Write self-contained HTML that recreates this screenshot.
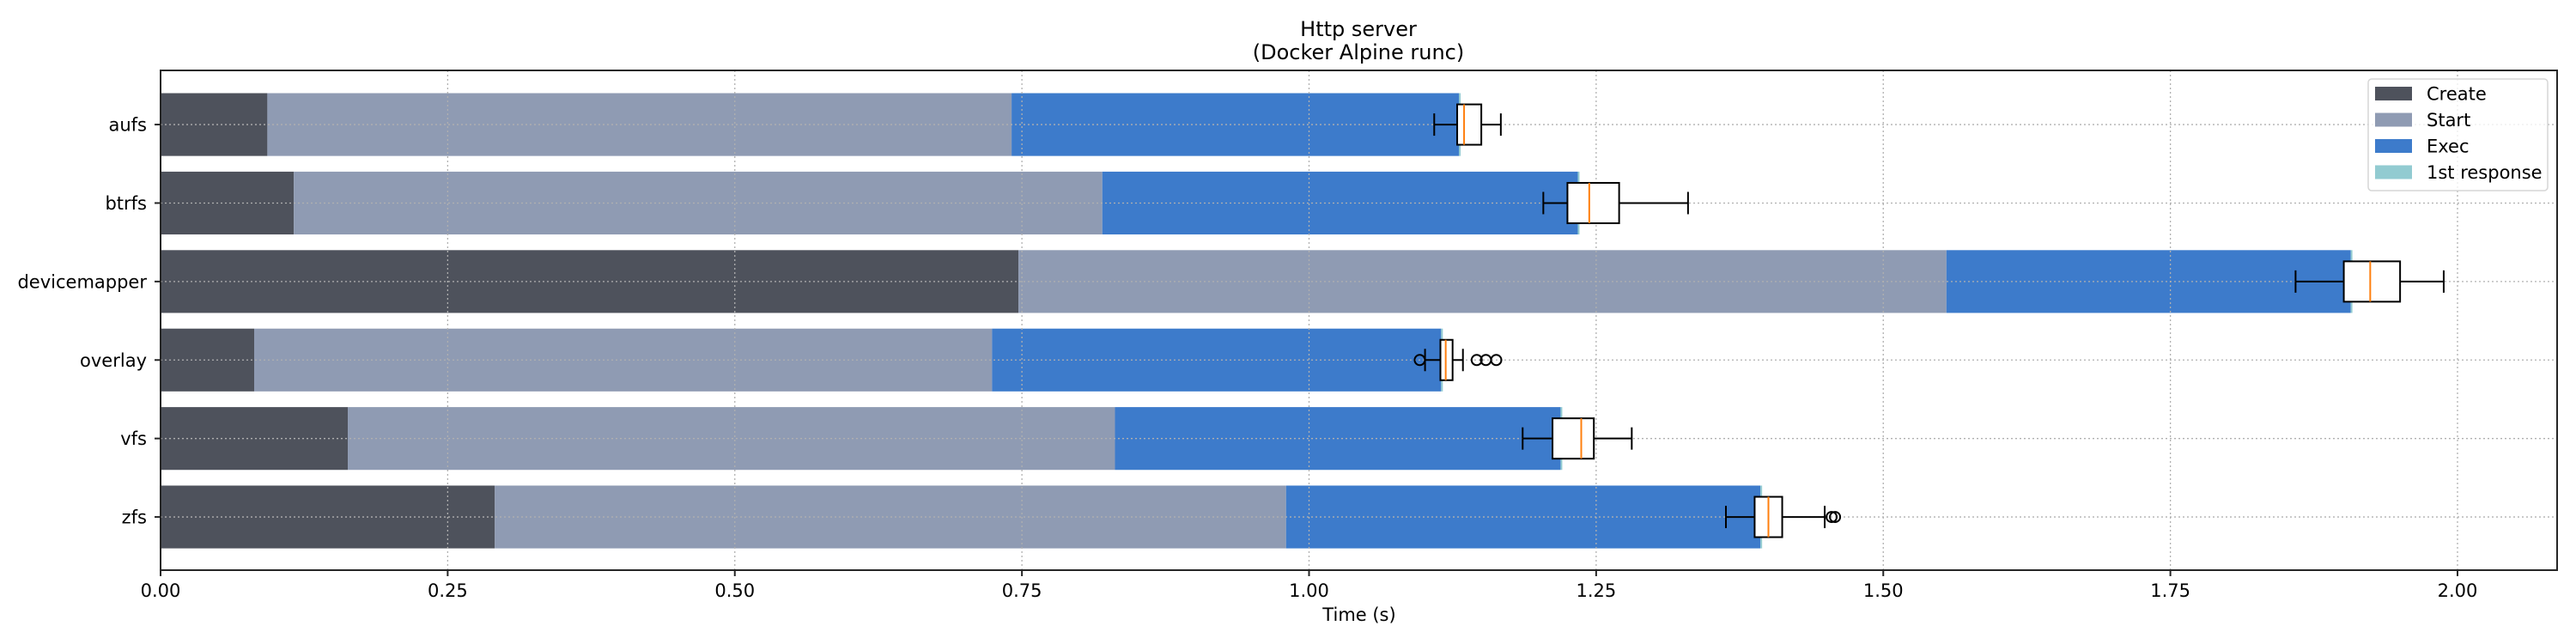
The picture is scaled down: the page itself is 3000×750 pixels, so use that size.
<!DOCTYPE html>
<html><head><meta charset="utf-8"><title>Http server</title>
<style>
html,body{margin:0;padding:0;background:#fff;}
svg{display:block;font-family:"DejaVu Sans","Liberation Sans",sans-serif;}
</style></head>
<body>
<svg id="chart" width="3000" height="750" xmlns="http://www.w3.org/2000/svg">
  <rect x="0" y="0" width="3000" height="750" fill="#fff"/>
  <text x="1582" y="42" font-size="24" text-anchor="middle" fill="#000">Http server</text>
  <text x="1582" y="69" font-size="24" text-anchor="middle" fill="#000">(Docker Alpine runc)</text>
  <g id="grid"></g>
  <g id="bars"></g>
  <g id="boxes"></g>
  <rect x="187" y="82" width="2791" height="582" fill="none" stroke="#262626" stroke-width="2"/>
  <g id="axes"></g>
  <text x="1583" y="723" font-size="21" text-anchor="middle" fill="#000">Time (s)</text>
  <g id="legend"></g>
</svg>
<script>
const categories = ["aufs","btrfs","devicemapper","overlay","vfs","zfs"];
const createVals = [0.093, 0.116, 0.747, 0.0815, 0.163, 0.291];
const startVals  = [0.648, 0.704, 0.808, 0.6425, 0.668, 0.689];
const execVals   = [0.3895, 0.414, 0.352, 0.391, 0.388, 0.413];
const respVals   = [0.0015, 0.0015, 0.0015, 0.0015, 0.0015, 0.0015];
const boxLo  = [1.109, 1.204, 1.859, 1.101, 1.186, 1.363];
const boxQ1  = [1.129, 1.225, 1.901, 1.1144, 1.212, 1.388];
const boxMed = [1.135, 1.244, 1.924, 1.119, 1.237, 1.400];
const boxQ3  = [1.150, 1.270, 1.950, 1.125, 1.248, 1.412];
const boxHi  = [1.167, 1.330, 1.988, 1.134, 1.281, 1.449];
const outliers = [[], [], [], [1.0964, 1.146, 1.154, 1.163], [], [1.455, 1.458]];
const xTicks = [0, 0.25, 0.5, 0.75, 1.0, 1.25, 1.5, 1.75, 2.0];
const xTickLabels = ["0.00","0.25","0.50","0.75","1.00","1.25","1.50","1.75","2.00"];
const seriesNames = ["Create","Start","Exec","1st response"];
const seriesColors = ["#4e525c","#8f9bb3","#3d7bcb","#92cbd1"];

const NS = "http://www.w3.org/2000/svg";
const L = 187, R = 2978, T = 82, B = 664;
const xMax = (R - L) / 1337.5;
const X = v => L + v / xMax * (R - L);
const step = 91.4;
const Y = i => T + (i + 0.69) * step;
function mk(tag, attrs, parent){ const e = document.createElementNS(NS, tag); for (const k in attrs) e.setAttribute(k, attrs[k]); parent.appendChild(e); return e; }

const grid = document.getElementById('grid');
const bars = document.getElementById('bars');
const boxes = document.getElementById('boxes');
const axes = document.getElementById('axes');
const legend = document.getElementById('legend');

xTicks.forEach((t, i) => {
  const gl = mk('line', {x1: X(t), x2: X(t), y1: T, y2: B, stroke: '#b0b0b0', 'stroke-width': 1.3, 'stroke-dasharray': '2,3'}, grid);
  
  
  const tk = mk('line', {x1: X(t), x2: X(t), y1: B, y2: B + 7, stroke: '#262626', 'stroke-width': 2}, axes);
  
  
  const lb = mk('text', {x: X(t), y: 695, 'font-size': 21, 'text-anchor': 'middle', fill: '#000'}, axes);
  lb.textContent = xTickLabels[i];
  
  
});

const bh = 0.8 * step;
categories.forEach((c, i) => {
  const yc = Y(i);
  const segs = [createVals[i], startVals[i], execVals[i], respVals[i]];
  let acc = 0;
  segs.forEach((v, s) => {
    const r = mk('rect', {x: X(acc), y: yc - bh / 2, width: X(acc + v) - X(acc), height: bh, fill: seriesColors[s]}, bars);
    
    
    acc += v;
  });
});

categories.forEach((c, i) => {
  const yc = Y(i);
  const gl = mk('line', {x1: L, x2: R, y1: yc, y2: yc, stroke: '#b0b0b0', 'stroke-width': 1.3, 'stroke-dasharray': '2,3'}, grid);
  
  
  const tk = mk('line', {x1: L - 7, x2: L, y1: yc, y2: yc, stroke: '#262626', 'stroke-width': 2}, axes);
  
  
  const lb = mk('text', {x: 171, y: yc + 7.5, 'font-size': 21, 'text-anchor': 'end', fill: '#000'}, axes);
  lb.textContent = c;
  
  
});
document.getElementById('chart').insertBefore(grid, boxes);

categories.forEach((c, i) => {
  const yc = Y(i);
  const hb = 23.5, hc = 13;
  const g = mk('g', {}, boxes);
  
  
  mk('line', {x1: X(boxLo[i]), x2: X(boxQ1[i]), y1: yc, y2: yc, stroke: '#000', 'stroke-width': 2}, g);
  mk('line', {x1: X(boxQ3[i]), x2: X(boxHi[i]), y1: yc, y2: yc, stroke: '#000', 'stroke-width': 2}, g);
  mk('line', {x1: X(boxLo[i]), x2: X(boxLo[i]), y1: yc - hc, y2: yc + hc, stroke: '#000', 'stroke-width': 2}, g);
  mk('line', {x1: X(boxHi[i]), x2: X(boxHi[i]), y1: yc - hc, y2: yc + hc, stroke: '#000', 'stroke-width': 2}, g);
  mk('rect', {x: X(boxQ1[i]), y: yc - hb, width: X(boxQ3[i]) - X(boxQ1[i]), height: 2 * hb, fill: '#fff', stroke: '#000', 'stroke-width': 2}, g);
  mk('line', {x1: X(boxMed[i]), x2: X(boxMed[i]), y1: yc - hb, y2: yc + hb, stroke: '#ff7f0e', 'stroke-width': 2}, g);
  outliers[i].forEach(o => {
    const ci = mk('circle', {cx: X(o), cy: yc, r: 6, fill: 'none', stroke: '#000', 'stroke-width': 2}, g);
    
    
  });
});

const lbox = mk('rect', {x: 2758, y: 92, width: 209, height: 130, rx: 4, fill: '#fff', 'fill-opacity': 0.8, stroke: '#d6d6d6', 'stroke-width': 1.5}, legend);


seriesNames.forEach((n, s) => {
  const yc = 109 + s * 30.5;
  const g = mk('g', {}, legend);
  
  
  mk('rect', {x: 2766, y: yc - 8, width: 43, height: 16, fill: seriesColors[s]}, g);
  const t = mk('text', {x: 2826, y: yc + 7.5, 'font-size': 21, fill: '#000'}, g);
  t.textContent = n;
});
</script>
</body></html>
